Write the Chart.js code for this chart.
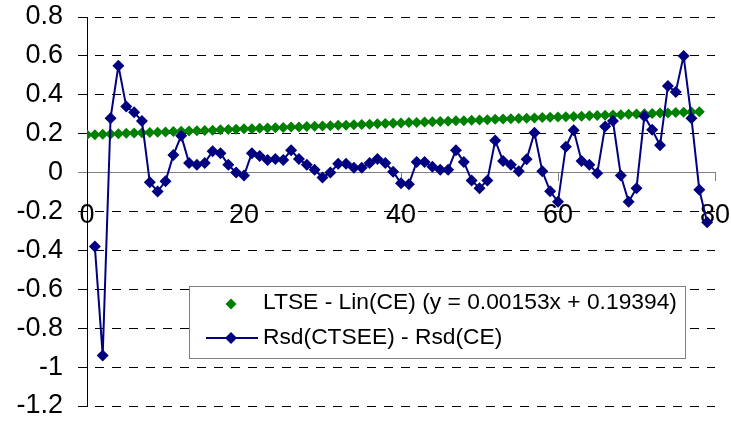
<!DOCTYPE html>
<html>
<head>
<meta charset="utf-8">
<script src="https://cdn.jsdelivr.net/npm/chart.js@4.4.1/dist/chart.umd.min.js"></script>
<style>
  html, body { margin: 0; padding: 0; background: #fff; }
</style>
</head>
<body>
<canvas id="chart" width="731" height="421"></canvas>
<script>
// Data
const trendStartX = 0;
const trendY = [
  0.194, 0.195, 0.197, 0.199, 0.200, 0.202, 0.203, 0.205, 0.206, 0.208,
  0.209, 0.211, 0.212, 0.214, 0.215, 0.217, 0.218, 0.220, 0.221, 0.223,
  0.225, 0.226, 0.228, 0.229, 0.231, 0.232, 0.234, 0.235, 0.237, 0.238,
  0.240, 0.241, 0.243, 0.244, 0.246, 0.247, 0.249, 0.251, 0.252, 0.254,
  0.255, 0.257, 0.258, 0.260, 0.261, 0.263, 0.264, 0.266, 0.267, 0.269,
  0.270, 0.272, 0.274, 0.275, 0.277, 0.278, 0.280, 0.281, 0.283, 0.284,
  0.286, 0.287, 0.289, 0.290, 0.292, 0.293, 0.295, 0.296, 0.298, 0.300,
  0.301, 0.303, 0.304, 0.306, 0.307, 0.309, 0.310, 0.312, 0.313
];
const rsdStartX = 1;
const rsdY = [
  -0.38, -0.94, 0.28, 0.55, 0.34, 0.31, 0.265, -0.05, -0.097, -0.045,
  0.09, 0.19, 0.05, 0.04, 0.05, 0.11, 0.10, 0.04, 0.00, -0.015,
  0.10, 0.085, 0.065, 0.07, 0.065, 0.115, 0.07, 0.04, 0.015, -0.025,
  0.0, 0.045, 0.045, 0.025, 0.025, 0.05, 0.07, 0.05, 0.005, -0.055,
  -0.06, 0.055, 0.055, 0.03, 0.015, 0.015, 0.115, 0.055, -0.04, -0.08,
  -0.04, 0.165, 0.06, 0.04, 0.007, 0.068, 0.205, 0.007, -0.096, -0.15,
  0.133, 0.218, 0.06, 0.04, -0.003, 0.237, 0.265, -0.015, -0.15, -0.08,
  0.29, 0.22, 0.14, 0.445, 0.415, 0.60, 0.28, -0.088, -0.255
];
const xTicks = [0, 20, 40, 60, 80];
const yTicks = [-1.2, -1, -0.8, -0.6, -0.4, -0.2, 0, 0.2, 0.4, 0.6, 0.8];
const seriesNames = ['LTSE - Lin(CE) (y = 0.00153x + 0.19394)', 'Rsd(CTSEE) - Rsd(CE)'];

const FONT = '"Liberation Sans", Arial, sans-serif';
const GREEN = '#008000';
const NAVY = '#000080';

function diamond(ctx, x, y, r) {
  ctx.beginPath();
  ctx.moveTo(x, y - r);
  ctx.lineTo(x + r, y);
  ctx.lineTo(x, y + r);
  ctx.lineTo(x - r, y);
  ctx.closePath();
  ctx.fill();
}

// grid, axes and ticks painted as 1px rectangles from the scales
const axesPainter = {
  id: 'axesPainter',
  beforeDatasetsDraw(chart) {
    const { ctx, chartArea: a, scales: { x, y } } = chart;
    const left = Math.round(a.left);
    const right = Math.round(a.right);
    ctx.save();
    yTicks.forEach(v => {
      const py = Math.round(y.getPixelForValue(v) - 0.5);
      if (v === 0) return;
      ctx.fillStyle = '#000';
      for (let px = left - 9; px < right; px += 17) {
        ctx.fillRect(px, py, Math.min(9, right - px), 1);
      }
    });
    const py0 = Math.round(y.getPixelForValue(0) - 0.5);
    ctx.fillStyle = '#808080';
    ctx.fillRect(left - 9, py0, right - left + 9, 1);
    xTicks.forEach(v => {
      const px = Math.round(x.getPixelForValue(v) - 0.5);
      ctx.fillRect(px, py0, 1, 9);
    });
    ctx.fillStyle = '#000';
    ctx.fillRect(left, Math.round(a.top), 1, Math.round(a.bottom - a.top) + 1);
    ctx.restore();
  }
};

// legend box sitting inside the plot, like the original
const boxLegend = {
  id: 'boxLegend',
  afterDraw(chart) {
    const ctx = chart.ctx;
    ctx.save();
    ctx.fillStyle = '#fff';
    ctx.fillRect(189, 286, 497, 72);
    ctx.strokeStyle = '#808080';
    ctx.lineWidth = 1;
    ctx.strokeRect(189.5, 286.5, 496, 72);

    ctx.fillStyle = GREEN;
    diamond(ctx, 231, 304, 5.5);

    ctx.fillStyle = NAVY;
    ctx.fillRect(206, 337, 52, 2);
    diamond(ctx, 231, 338, 6);

    ctx.fillStyle = '#000';
    ctx.font = '22.8px ' + FONT;
    ctx.textBaseline = 'middle';
    ctx.fillText(seriesNames[0], 263, 303);
    ctx.fillText(seriesNames[1], 263, 338);
    ctx.restore();
  }
};

window.onload = function () {
  new Chart(document.getElementById('chart').getContext('2d'), {
    type: 'scatter',
    data: {
      datasets: [{
        label: seriesNames[0],
        data: trendY.map((v, i) => ({ x: trendStartX + i, y: v })),
        showLine: false,
        pointStyle: 'rectRot',
        pointRadius: 5.5,
        pointBackgroundColor: GREEN,
        pointBorderColor: GREEN,
        pointBorderWidth: 0,
        order: 2
      }, {
        label: seriesNames[1],
        data: rsdY.map((v, i) => ({ x: rsdStartX + i, y: v })),
        showLine: true,
        borderColor: NAVY,
        borderWidth: 2,
        pointStyle: 'rectRot',
        pointRadius: 6,
        pointBackgroundColor: NAVY,
        pointBorderColor: NAVY,
        pointBorderWidth: 0,
        order: 1
      }]
    },
    options: {
      responsive: false,
      animation: false,
      layout: { padding: { top: 17, right: 16, bottom: 15, left: 0 } },
      plugins: {
        legend: { display: false },
        tooltip: { enabled: false }
      },
      scales: {
        x: {
          type: 'linear',
          position: { y: 0 },
          min: 0,
          max: 80,
          afterFit(scale) {
            scale.height = 0;
            scale.paddingLeft = 0;
            scale.paddingRight = 0;
          },
          afterBuildTicks(scale) { scale.ticks = xTicks.map(v => ({ value: v })); },
          ticks: { color: '#000', padding: 18, maxRotation: 0, font: { family: FONT, size: 27 } },
          grid: { display: false, drawTicks: true, tickLength: 9 },
          border: { display: false }
        },
        y: {
          min: -1.2,
          max: 0.8,
          afterFit(scale) {
            scale.width = 87;
            scale.paddingTop = 0;
            scale.paddingBottom = 0;
          },
          afterBuildTicks(scale) { scale.ticks = yTicks.map(v => ({ value: v })); },
          ticks: {
            color: '#000',
            padding: 15,
            font: { family: FONT, size: 27 },
            callback: v => Number(v.toFixed(1)).toString()
          },
          grid: { display: false, drawTicks: true, tickLength: 9 },
          border: { display: false }
        }
      }
    },
    plugins: [axesPainter, boxLegend]
  });
};
</script>
</body>
</html>
